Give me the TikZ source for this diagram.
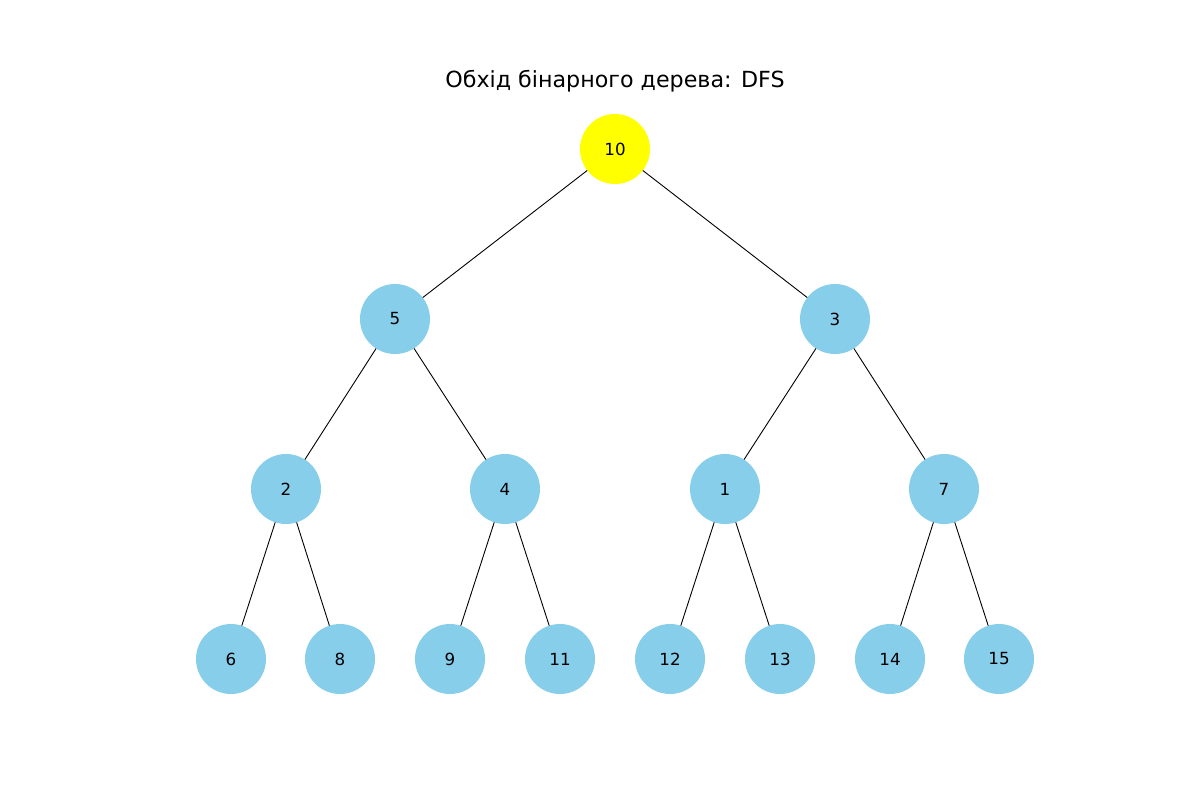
\documentclass[tikz,border=0pt]{standalone}
\usepackage{fontspec}
\setmainfont{DejaVu Sans}
\begin{document}
\begin{tikzpicture}[x=1pt,y=-1pt,
  tnode/.style={circle,fill=skyblue,minimum size=70pt,inner sep=0pt,font=\fontsize{16.7}{20}\selectfont},
  rootnode/.style={tnode,fill=pureyellow},
  edge/.style={draw=black,line width=0.9pt}]
\definecolor{skyblue}{HTML}{87CEEB}
\definecolor{pureyellow}{RGB}{255,255,0}
\useasboundingbox[fill=white] (0,0) rectangle (1200,800);
\node[font=\fontsize{22.2}{26}\selectfont] (title) at (615,81) {Обхід бінарного дерева: DFS};
\coordinate (c10) at (615,149);
\coordinate (c5) at (395,319);
\coordinate (c3) at (835,319);
\coordinate (c2) at (286,489);
\coordinate (c4) at (505,489);
\coordinate (c1) at (725,489);
\coordinate (c7) at (944,489);
\coordinate (c6) at (231,659);
\coordinate (c8) at (340,659);
\coordinate (c9) at (450,659);
\coordinate (c11) at (560,659);
\coordinate (c12) at (670,659);
\coordinate (c13) at (780,659);
\coordinate (c14) at (890,659);
\coordinate (c15) at (999,659);
\foreach \a/\b in {10/5,10/3,5/2,5/4,3/1,3/7,2/6,2/8,4/9,4/11,1/12,1/13,7/14,7/15}
  \draw[edge] (c\a) -- (c\b);
\node[rootnode] (n10) at (c10) {10};
\foreach \n in {5,3,2,4,1,7,6,8,9,11,12,13,14,15}
  \node[tnode] (n\n) at (c\n) {\n};
\end{tikzpicture}
\end{document}
